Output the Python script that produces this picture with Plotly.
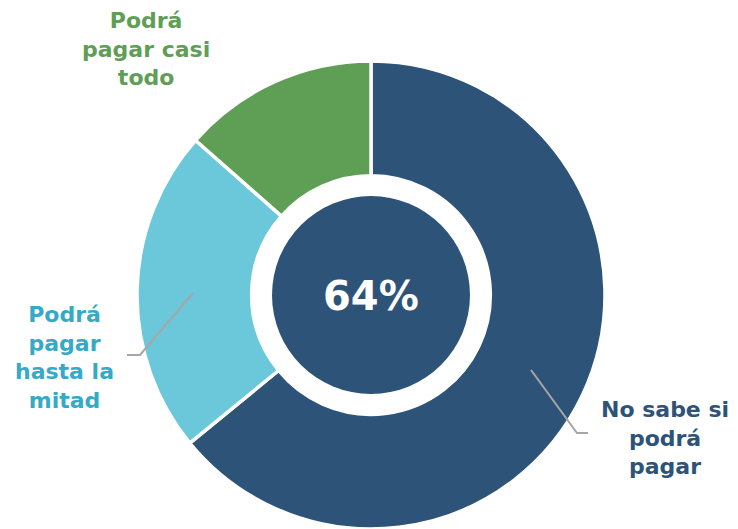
import plotly.graph_objects as go

labels = ["No sabe si podrá pagar", "Podrá pagar hasta la mitad", "Podrá pagar casi todo"]
values = [64.1, 22.4, 13.5]
slice_colors = ["#2D5478", "#6BC8DA", "#5F9E55"]
label_colors = ["#2D5478", "#35AAC6", "#5F9E55"]
center_text = "64%"

# page body has an 8px margin, so work in shifted pixel coordinates
OFF = 8
W, H = 738 - 2 * OFF, 529 - OFF
cx, cy, R = 371 - OFF, 295 - OFF, 234


def px(x):
    return x - OFF


fig = go.Figure()
fig.add_trace(go.Pie(
    labels=labels, values=values, sort=False, direction="clockwise", rotation=0,
    hole=0.51, textinfo="none", hoverinfo="label+percent",
    marker=dict(colors=slice_colors, line=dict(color="white", width=3.5)),
    domain=dict(x=[(cx - R) / W, (cx + R) / W], y=[1 - (cy + R) / H, 1 - (cy - R) / H]),
    showlegend=False,
))

fig.add_trace(go.Scatter(x=[0], y=[0], mode="markers", marker=dict(opacity=0), showlegend=False, hoverinfo="skip"))

r_in = 99
fig.add_shape(type="circle", xref="x", yref="y", x0=cx - r_in, x1=cx + r_in, y0=cy - r_in, y1=cy + r_in,
              fillcolor=slice_colors[0], line=dict(width=0), layer="above")

lead = dict(color="#A6A6A6", width=2)
fig.add_shape(type="path", xref="x", yref="y",
              path="M %d %d L %d %d L %d %d" % (px(193), px(293), px(140), px(355), px(127), px(355)),
              line=lead, layer="above")
fig.add_shape(type="path", xref="x", yref="y",
              path="M %d %d L %d %d L %d %d" % (px(531), px(370), px(577), px(433), px(588), px(433)),
              line=lead, layer="above")

font = "DejaVu Sans, Verdana, sans-serif"
fig.add_annotation(x=cx, y=cy + 1, xref="x", yref="y", text="<b>%s</b>" % center_text, showarrow=False,
                   font=dict(family=font, size=40, color="white"))
fig.add_annotation(x=px(665), y=px(438), xref="x", yref="y", text="<b>No sabe si<br>podrá<br>pagar</b>",
                   showarrow=False, font=dict(family=font, size=22, color=label_colors[0]), align="center")
fig.add_annotation(x=px(64), y=px(357.5), xref="x", yref="y", text="<b>Podrá<br>pagar<br>hasta la<br>mitad</b>",
                   showarrow=False, font=dict(family=font, size=22, color=label_colors[1]), align="center")
fig.add_annotation(x=px(146), y=px(49), xref="x", yref="y", text="<b>Podrá<br>pagar casi<br>todo</b>",
                   showarrow=False, font=dict(family=font, size=22, color=label_colors[2]), align="center")

fig.update_layout(
    width=W, height=H, margin=dict(l=0, r=0, t=0, b=0),
    paper_bgcolor="white", plot_bgcolor="rgba(0,0,0,0)",
    xaxis=dict(range=[0, W], visible=False, fixedrange=True),
    yaxis=dict(range=[H, 0], visible=False, fixedrange=True),
)

fig.write_html("out.html")
